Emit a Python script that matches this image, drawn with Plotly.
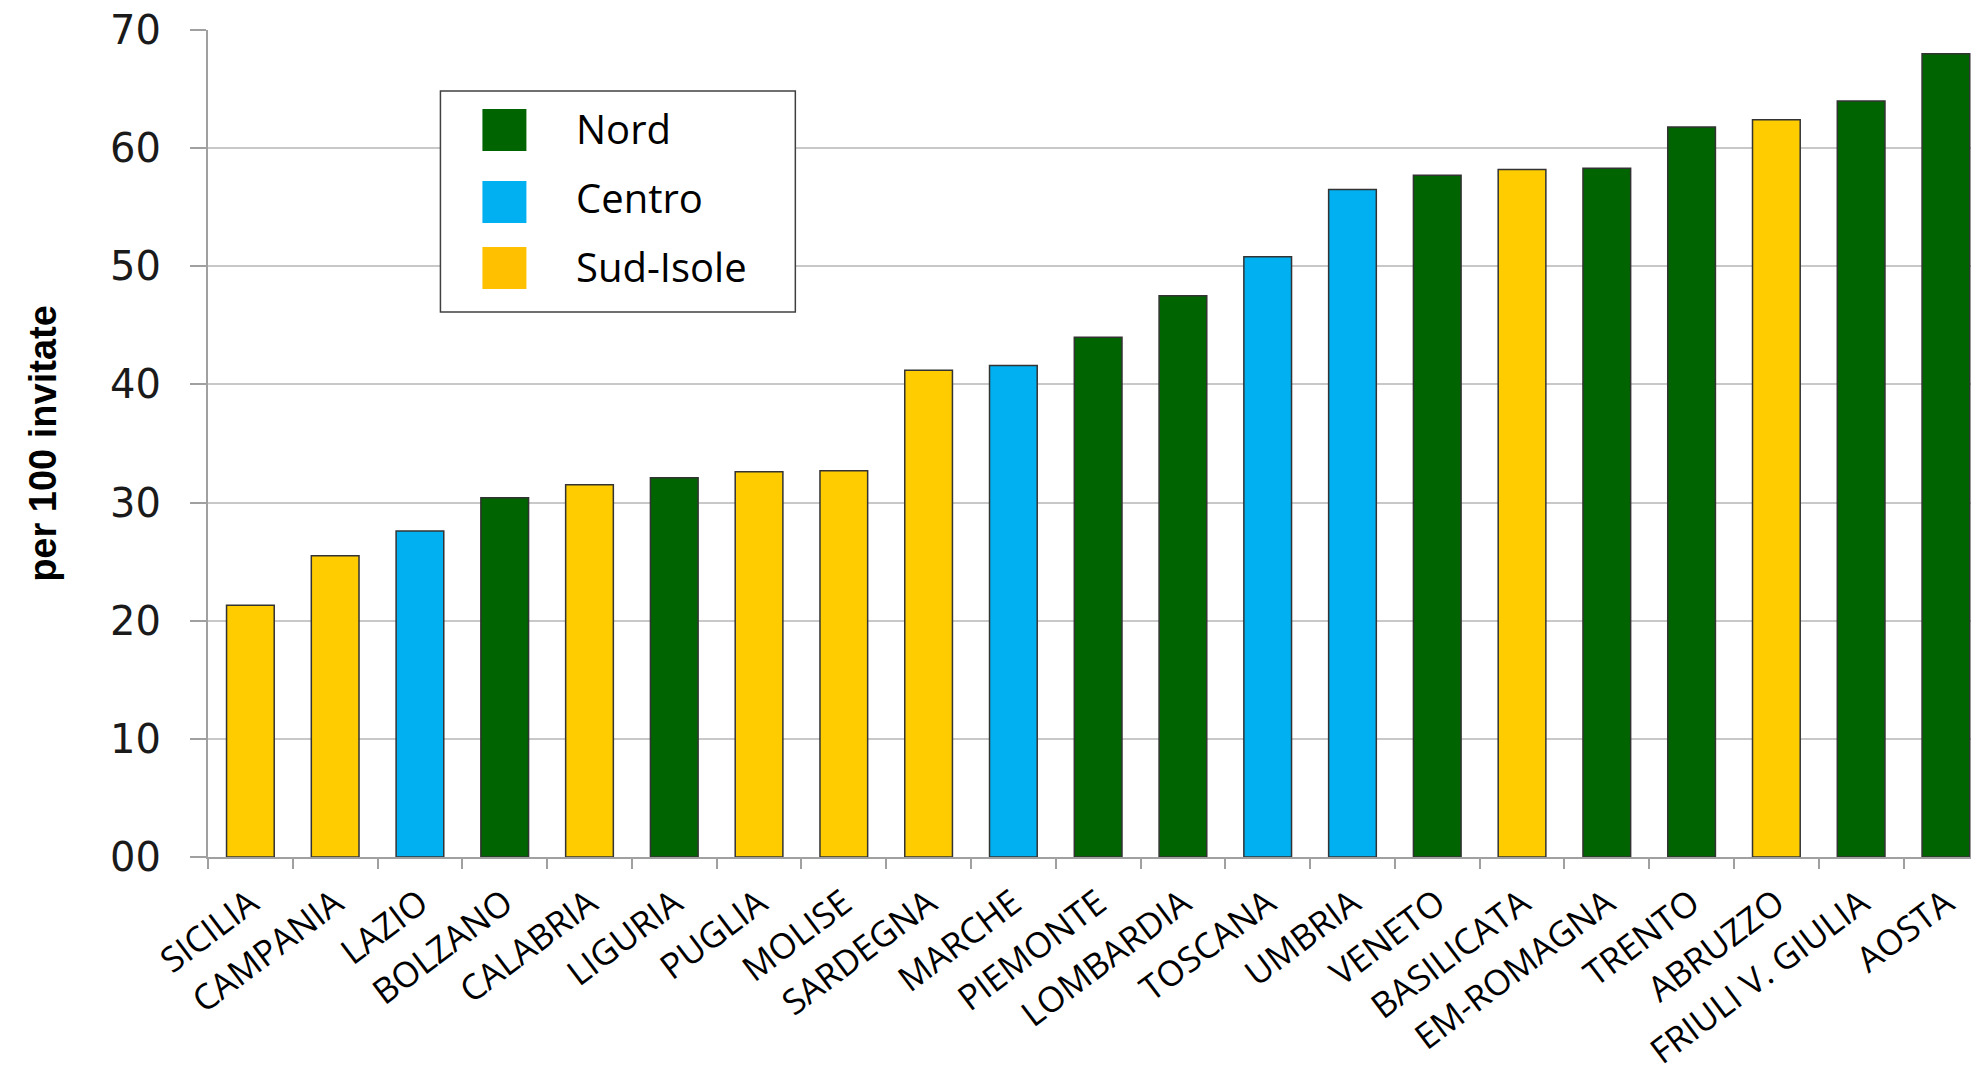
import plotly.graph_objects as go

# Regional screening participation, per 100 women invited
regions = ["SICILIA", "CAMPANIA", "LAZIO", "BOLZANO", "CALABRIA", "LIGURIA",
           "PUGLIA", "MOLISE", "SARDEGNA", "MARCHE", "PIEMONTE", "LOMBARDIA",
           "TOSCANA", "UMBRIA", "VENETO", "BASILICATA", "EM-ROMAGNA", "TRENTO",
           "ABRUZZO", "FRIULI V. GIULIA", "AOSTA"]
values = [21.3, 25.5, 27.6, 30.4, 31.5, 32.1, 32.6, 32.7, 41.2, 41.6, 44.0,
          47.5, 50.8, 56.5, 57.7, 58.2, 58.3, 61.8, 62.4, 64.0, 68.0]
area = ["Sud-Isole", "Sud-Isole", "Centro", "Nord", "Sud-Isole", "Nord",
        "Sud-Isole", "Sud-Isole", "Sud-Isole", "Centro", "Nord", "Nord",
        "Centro", "Centro", "Nord", "Sud-Isole", "Nord", "Nord",
        "Sud-Isole", "Nord", "Nord"]

area_names = ["Nord", "Centro", "Sud-Isole"]
area_colors = {"Nord": "#006400", "Centro": "#00B0F0", "Sud-Isole": "#FFCC00"}
legend_colors = {"Nord": "#006400", "Centro": "#00B0F0", "Sud-Isole": "#FFC000"}

y_ticks = [0, 10, 20, 30, 40, 50, 60, 70]
y_ticktext = ["00", "10", "20", "30", "40", "50", "60", "70"]

W, H = 1971, 1082
L, R, T, B = 207.5, 0, 30, 225
cat_px = 84.8
plot_w = W - L - R
plot_h = H - T - B

fig = go.Figure()
fig.add_trace(go.Bar(
    x=regions, y=values,
    marker=dict(color=[area_colors[a] for a in area],
                line=dict(color="#333333", width=1.5)),
    showlegend=False,
))

# Legend box drawn in pixel space and converted to paper coordinates
def px_x(px):
    return (px - L) / plot_w

def px_y(py):
    return (H - B - py) / plot_h

shapes = [dict(type="rect", xref="paper", yref="paper",
               x0=px_x(440), x1=px_x(795), y0=px_y(312), y1=px_y(91),
               line=dict(color="#404040", width=1.5), fillcolor="white", layer="above")]
annotations = []
square_tops = [109, 181, 247]
text_centers = [129, 198, 266]
for name, top, tc in zip(area_names, square_tops, text_centers):
    shapes.append(dict(type="rect", xref="paper", yref="paper",
                       x0=px_x(482), x1=px_x(526), y0=px_y(top + 42), y1=px_y(top),
                       line=dict(width=0), fillcolor=legend_colors[name], layer="above"))
    annotations.append(dict(xref="paper", yref="paper", x=px_x(574), y=px_y(tc),
                            text=name, showarrow=False, xanchor="left", yanchor="middle",
                            font=dict(family="Open Sans", size=40, color="#000000")))

fig.update_layout(
    width=W, height=H,
    margin=dict(l=L, r=R, t=T, b=B, pad=0, autoexpand=False),
    paper_bgcolor="white", plot_bgcolor="white",
    bargap=0.4375,
    shapes=shapes,
    annotations=annotations,
    xaxis=dict(
        type="category",
        automargin=False,
        range=[-0.5, -0.5 + plot_w / cat_px],
        tickson="boundaries",
        ticks="outside", ticklen=10, tickwidth=1.5, tickcolor="#a0a0a0",
        showline=True, linecolor="#a0a0a0", linewidth=2,
        showgrid=False,
        tickangle=-37,
        ticklabelstandoff=10,
        tickfont=dict(family="Open Sans", size=35, color="#000000"),
    ),
    yaxis=dict(
        range=[0, 70],
        automargin=False,
        tickvals=y_ticks, ticktext=y_ticktext,
        ticks="outside", ticklen=16, tickwidth=1.5, tickcolor="#a0a0a0",
        showline=True, linecolor="#a0a0a0", linewidth=2,
        showgrid=True, gridcolor="#c8c8c8", gridwidth=1.5,
        zeroline=False,
        ticklabelstandoff=21,
        tickfont=dict(family="DejaVu Sans", size=40, color="#1a1a1a"),
        title=dict(text="<b>per 100 invitate</b>", standoff=42,
                   font=dict(family="Liberation Sans", size=38, color="#000000")),
    ),
)

fig.write_html("out.html")
